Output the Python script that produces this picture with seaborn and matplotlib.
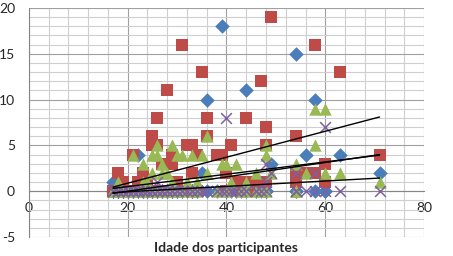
import numpy as np
import pandas as pd
import matplotlib.pyplot as plt
import seaborn as sns
from matplotlib.ticker import MultipleLocator

# idade de cada participante e os valores das 4 séries
idades = [17, 17, 18, 18, 19, 21, 21, 22, 23, 23, 24, 25, 25, 25, 26, 26, 27, 27, 28, 28,
          29, 29, 30, 30, 31, 32, 33, 33, 34, 34, 35, 36, 36, 38, 39, 40, 40, 41, 42, 43,
          44, 44, 46, 46, 47, 48, 48, 48, 49, 54, 54, 54, 56, 58, 58, 60, 60, 63, 71,
          17, 18, 19, 20, 20, 22, 24, 26, 28, 31, 17, 18, 20, 21, 22,
          17, 18, 19, 19, 20, 21, 22, 23, 24, 25, 26, 27, 29, 30, 33,
          17, 18, 19, 20, 21, 23, 24]
serie1 = [1, 0, 0, 0, 0, 0, 0, 4, 0, 0, 0, 0, 0, 0, 0, 0, 0, 0, 0, 0,
          0, 0, 0, 0, 0, 0, 0, 0, 0, 0, 2, 10, 0, 0, 18, 0, 0, 0, 0, 0,
          11, 0, 0, 0, 0, 0, 0, 0, 3, 15, 0, 0, 4, 10, 0, 0, 0, 4, 2,
          0, 0, 0, 0, 0, 0, 0, 0, 0, 0, 0, 0, 0, 0, 0,
          0, 0, 0, 0, 0, 0, 0, 0, 0, 0, 0, 0, 0, 0, 0,
          0, 0, 0, 0, 0, 0, 0]
serie2 = [0, 0, 2, 0, 1, 4, 0, 1, 2, 0, 1, 6, 5, 0, 8, 5, 3, 0, 11, 0,
          4, 3, 1, 0, 16, 5, 5, 2, 4, 0, 13, 8, 6, 4, 4, 2, 0, 5, 1, 0,
          8, 1, 1, 0, 12, 7, 5, 1, 19, 6, 1, 2, 2, 16, 2, 3, 1, 13, 4,
          0, 0, 0, 0, 0, 0, 0, 0, 0, 0, 0, 0, 0, 0, 0,
          0, 0, 0, 0, 0, 0, 0, 0, 0, 0, 0, 0, 0, 0, 0,
          0, 0, 0, 0, 0, 0, 0]
serie3 = [0, 0, 1, 0, 0, 4, 0, 0, 3, 1, 1, 4, 2, 0, 4, 5, 3, 2, 2, 0,
          5, 1, 4, 0, 4, 1, 4, 0, 1, 0, 4, 6, 2, 0, 3, 3, 0, 1, 3, 0,
          1, 0, 2, 0, 0, 5, 4, 0, 2, 3, 0, 0, 2, 9, 5, 9, 2, 2, 1,
          0, 0, 0, 0, 0, 0, 0, 0, 0, 0, 0, 0, 0, 0, 0,
          0, 0, 0, 0, 0, 0, 0, 0, 0, 0, 0, 0, 0, 0, 0,
          0, 0, 0, 0, 0, 0, 0]
serie4 = [0, 0, 0, 0, 0, 0, 0, 0, 0, 0, 0, 0, 0, 0, 0, 1, 0, 0, 0, 0,
          0, 0, 0, 0, 0, 0, 0, 0, 0, 0, 0, 0, 0, 0, 0, 8, 0, 0, 0, 0,
          0, 0, 0, 0, 0, 1, 0, 3, 2, 2, 0, 0, 0, 2, 0, 7, 0, 0, 0,
          0, 0, 0, 0, 0, 0, 0, 0, 0, 0, 0, 0, 0, 0, 0,
          0, 0, 0, 0, 0, 0, 0, 0, 0, 0, 0, 0, 0, 0, 0,
          0, 0, 0, 0, 0, 0, 0]

df = pd.DataFrame({'idade': idades, 's1': serie1, 's2': serie2, 's3': serie3, 's4': serie4})

estilos = [('s1', '#4A7EBB', 'D', 55),
           ('s2', '#BE4B48', 's', 75),
           ('s3', '#98B954', '^', 80),
           ('s4', '#7D60A0', 'x', 60)]

sns.set_style("white")
plt.rcParams['font.family'] = ['Lato', 'DejaVu Sans']
plt.rcParams['axes.unicode_minus'] = False

fig = plt.figure(figsize=(4.53, 2.56), dpi=100)
ax = fig.add_axes([0.064, 0.074, 0.872, 0.895])

for col, cor, marc, tam in estilos:
    if marc == 'x':
        sns.scatterplot(data=df, x='idade', y=col, color=cor, marker=marc, s=tam,
                        linewidth=1.1, ax=ax, zorder=3)
    else:
        sns.scatterplot(data=df, x='idade', y=col, color=cor, marker=marc, s=tam,
                        linewidth=0, ax=ax, zorder=3)

# linhas de tendência (lineares)
xs = np.array([df['idade'].min(), df['idade'].max()])
for col, cor, marc, tam in estilos:
    a, b = np.polyfit(df['idade'], df[col], 1)
    ax.plot(xs, a * xs + b, color='black', lw=1, zorder=4)

ax.set_xlim(0, 80)
ax.set_ylim(-5, 20)
ax.xaxis.set_major_locator(MultipleLocator(20))
ax.xaxis.set_minor_locator(MultipleLocator(4))
ax.yaxis.set_major_locator(MultipleLocator(5))
ax.yaxis.set_minor_locator(MultipleLocator(1))
ax.grid(which='major', color='#A0A0A0', lw=0.8, zorder=0)
ax.grid(which='minor', color='#CFCFCF', lw=0.8, zorder=0)
ax.set_axisbelow(True)

for s in ['top', 'right']:
    ax.spines[s].set_visible(False)
ax.spines['left'].set_color('#868686')
ax.spines['bottom'].set_position(('data', 0))
ax.spines['bottom'].set_color('#868686')
ax.tick_params(axis='both', which='both', length=0, labelsize=10)
ax.tick_params(axis='x', pad=8)
ax.tick_params(axis='y', pad=10)
ax.set_xlabel('')
ax.set_ylabel('')

fig.text(0.5, 0.031, 'Idade dos participantes', ha='center', va='center',
         fontsize=10, fontweight='bold')

fig.savefig('out.png', dpi=100)
